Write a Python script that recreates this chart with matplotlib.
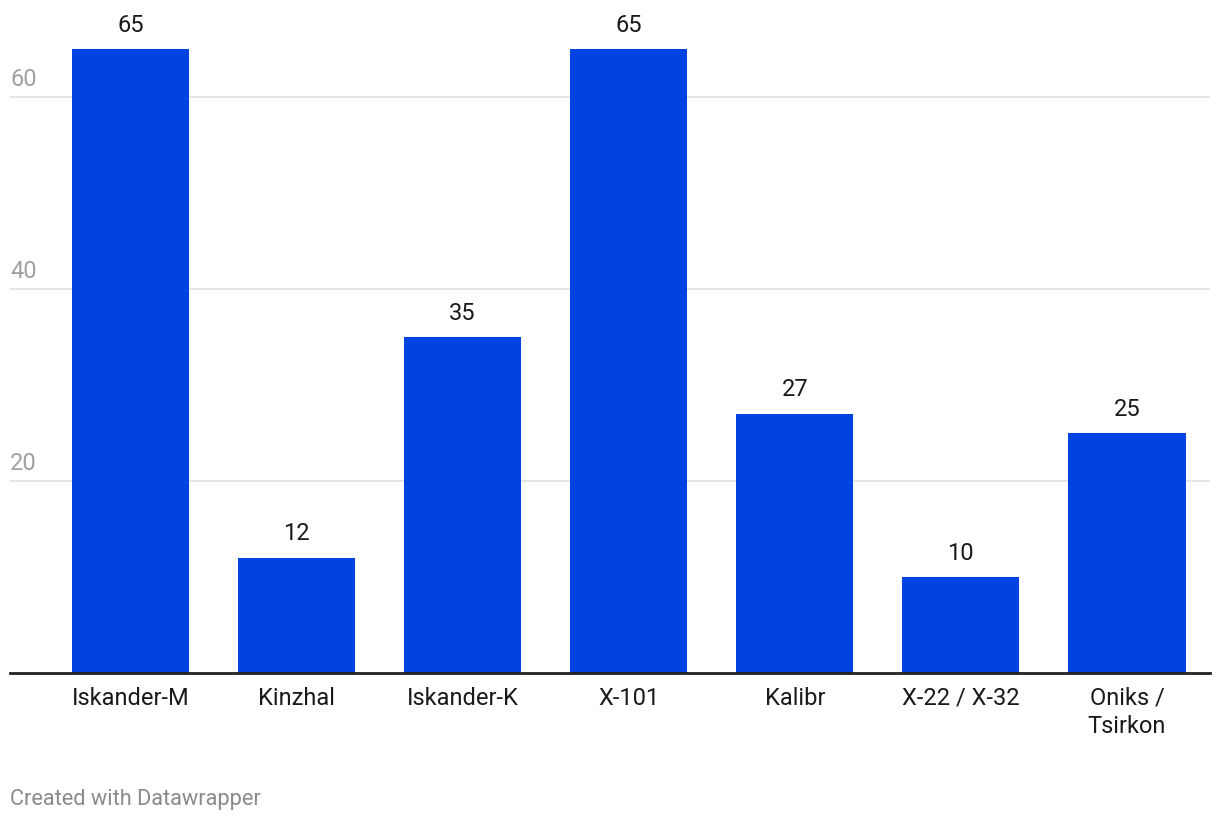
import matplotlib.pyplot as plt

plt.rcParams['font.family'] = ['Roboto', 'DejaVu Sans']

categories = ["Iskander-M", "Kinzhal", "Iskander-K", "X-101", "Kalibr", "X-22 / X-32", "Oniks /\nTsirkon"]
values = [65, 12, 35, 65, 27, 10, 25]
yticks = [20, 40, 60]

W, H = 1220, 822
fig = plt.figure(figsize=(W / 100, H / 100), dpi=100)
# axes in pixel terms: left 10, right 1210, baseline at 673, top at 25
ax = fig.add_axes([10 / W, (H - 673) / H, 1200 / W, (673 - 25) / H])
ax.set_xlim(-0.725, 6.5)
ax.set_ylim(0, (673 - 25) / 9.6)

x = range(len(categories))
ax.bar(x, values, width=0.705, color="#0043e0", zorder=2)

# value labels above bars
for xi, v in zip(x, values):
    ax.annotate(str(v), (xi, v), xytext=(0, 9), textcoords="offset points",
                ha="center", va="bottom", fontsize=17, color="#1a1a1a")

# gridlines with labels sitting on top of them
for t in yticks:
    ax.axhline(t, color="#e2e2e2", lw=1.3, zorder=1)
    ax.annotate(str(t), (-0.725, t), xytext=(0, 4.5), textcoords="offset points",
                ha="left", va="bottom", fontsize=17, color="#a0a0a0")

ax.axhline(0, color="#222222", lw=2, zorder=3, clip_on=False)

for xi, c in zip(x, categories):
    ax.annotate(c, (xi, 0), xytext=(0, -10), textcoords="offset points",
                ha="center", va="top", fontsize=17, color="#1a1a1a", linespacing=1.3)

for s in ax.spines.values():
    s.set_visible(False)
ax.set_xticks([])
ax.set_yticks([])

fig.text(10 / W, 1 - 799 / H, "Created with Datawrapper", ha="left", va="center",
         fontsize=15.7, color="#8a8a8a")

fig.savefig("out.png", dpi=100)
